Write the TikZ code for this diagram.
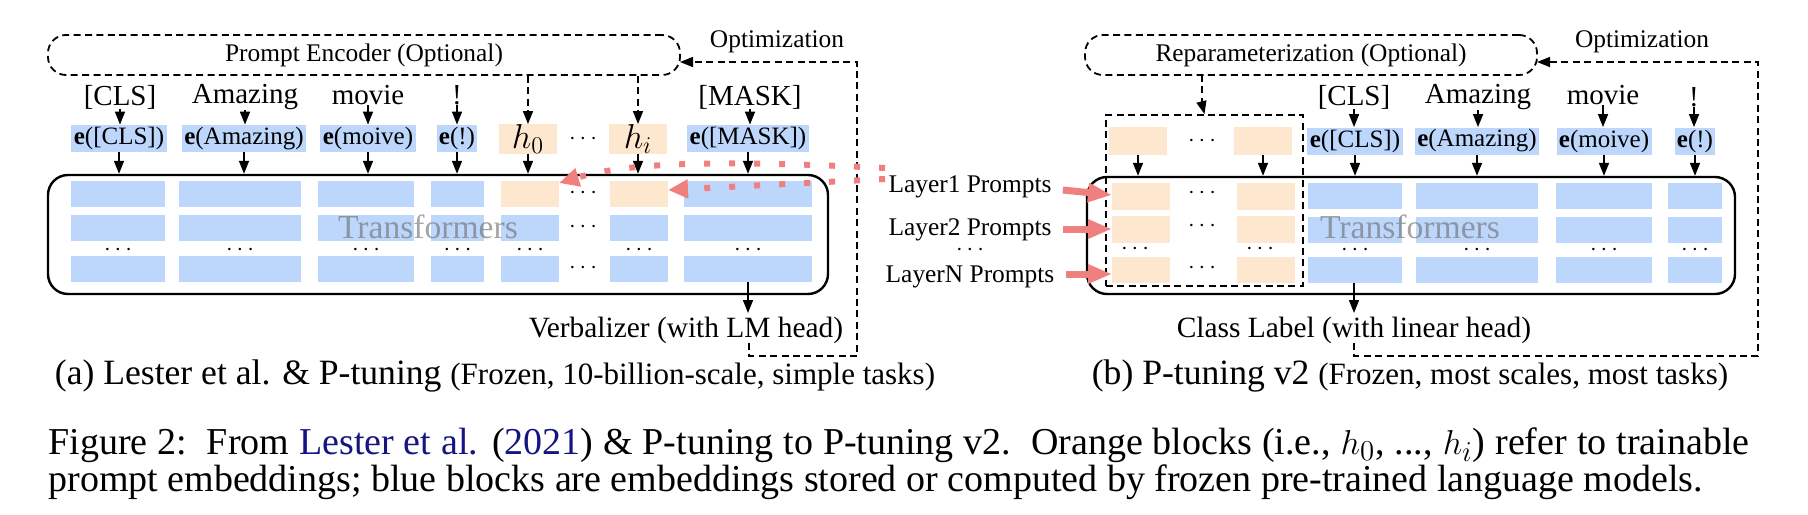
\documentclass[tikz,border=0pt]{standalone}
\usepackage{fontspec}
\setmainfont{Liberation Serif}
\usetikzlibrary{arrows.meta,fit,calc}
\definecolor{bl}{RGB}{189,215,252}
\definecolor{og}{RGB}{253,231,206}
\definecolor{rd}{RGB}{240,128,128}
\definecolor{citeblue}{RGB}{20,20,130}
\newcommand\fbig{\fontsize{14.7}{17}\selectfont}
\newcommand\ftok{\fontsize{14.5}{17}\selectfont}
\newcommand\fmid{\fontsize{12.7}{15}\selectfont}
\newcommand\fee{\fontsize{12.5}{15}\selectfont}
\newcommand\ftr{\fontsize{16.8}{20}\selectfont}
\newcommand\fdots{\fontsize{13}{15}\selectfont}
\newcommand\fcapbig{\fontsize{17.8}{21}\selectfont}
\newcommand\fcapsmall{\fontsize{15.5}{18}\selectfont}
\newcommand\fcap{\fontsize{19}{22}\selectfont}
\begin{document}
\begin{tikzpicture}[x=0.5pt,y=-0.5pt,
  arr/.style={-{Triangle[length=6.5pt,width=5pt]}, line width=0.8pt},
  dsh/.style={dash pattern=on 3.5pt off 2.2pt, line width=0.9pt},
  ebox/.style={fill=bl, inner xsep=1.2pt, inner ysep=0pt, minimum height=13.5pt, font=\fee},
  obox/.style={fill=og, inner sep=0pt, minimum width=29pt, minimum height=14pt},
  tok/.style={font=\ftok, inner sep=0pt},
  lbl/.style={font=\fbig, inner sep=0pt},
  dts/.style={font=\fdots, inner sep=0pt},
  tbox/.style={draw, line width=1.2pt, rounded corners=10pt, inner sep=0pt},
  pbox/.style={draw, dsh, rounded corners=9pt, inner sep=0pt},
  redar/.style={draw=rd, line width=3.5pt, -{Triangle[length=12pt,width=9pt]}},
  reddot/.style={draw=rd, line width=3pt, dash pattern=on 3pt off 9.5pt, -{Triangle[length=10pt,width=9pt]}},
  trlabel/.style={font=\ftr, text=black!55, text opacity=0.65, inner sep=0pt},
  lyr/.style={font=\fmid, inner sep=0pt},
]
\useasboundingbox (0,0) rectangle (1808,514);

%%%%%%%%%%%%%%%% Panel (a) %%%%%%%%%%%%%%%%
\node[pbox, fit={(48,35) (680,75)}] (enc) {};
\node[font=\fmid, inner sep=0pt] (encL) at (364,55) {Prompt Encoder (Optional)};

\node[tbox, fit={(48,175) (828,294)}] (TA) {};

% blocks
\foreach \a/\b in {71/165,179/301,318/414,431/484,501/559,610/668,684/812} {
  \foreach \t/\u in {181/207,215/241,256/282} {
    \fill[bl] (\a,\t) rectangle (\b,\u);
  }
  \node[dts] at ({(\a+\b)/2},250) {$\cdots$};
}
\fill[og] (501,181) rectangle (559,207);
\fill[og] (610,181) rectangle (668,207);
\node[dts] at (583,193) {$\cdots$};
\node[dts] at (583,227) {$\cdots$};
\node[dts] at (583,268) {$\cdots$};
\coordinate (hzA) at (559,183);
\coordinate (hiA) at (668,190);

\node[trlabel] (trA) at (428,227) {Transformers};

% tokens
\node[tok] (aCLS) at (120,97) {[CLS]};
\node[tok] (aAma) at (245,97) {Amazing};
\node[tok] (aMov) at (368,95) {movie};
\node[tok] (aExc) at (457,95) {!};
\node[tok] (aMsk) at (750,97) {[MASK]};

\node[ebox] (eaCLS) at (119,138.5) {\textbf{e}([CLS])};
\node[ebox] (eaAma) at (244,138.5) {\textbf{e}(Amazing)};
\node[ebox] (eaMov) at (368,138.5) {\textbf{e}(moive)};
\node[ebox] (eaExc) at (457,138.5) {\textbf{e}(!)};
\node[ebox] (eaMsk) at (748,138.5) {\textbf{e}([MASK])};
\node[obox] (h0) at (528,139) {\fontsize{17}{20}\selectfont$h_0$};
\node[obox] (hi) at (638,139) {\fontsize{17}{20}\selectfont$h_i$};
\node[dts] (hdots) at (583,139) {$\cdots$};

\foreach \t/\e in {aCLS/eaCLS,aAma/eaAma,aMov/eaMov,aExc/eaExc,aMsk/eaMsk} {
  \draw[arr] (\t.south) -- (\t.south |- \e.north);
}
\foreach \e in {eaCLS,eaAma,eaMov,eaExc,h0,hi,eaMsk} {
  \draw[arr] (\e.south) -- (\e.south |- TA.north);
}
\draw[dsh] (h0.north |- enc.south) -- ($(h0.north)+(0,-9)$);
\draw[arr] ($(h0.north)+(0,-9)$) -- (h0.north);
\draw[dsh] (hi.north |- enc.south) -- ($(hi.north)+(0,-9)$);
\draw[arr] ($(hi.north)+(0,-9)$) -- (hi.north);

% verbalizer
\coordinate (outA) at (748,282);
\node[lbl] (verb) at (686,330) {Verbalizer (with LM head)};
\draw[arr] (outA) -- (748,313);
\coordinate (optA1) at (749,343);
\coordinate (optA2) at (857,62);
\coordinate (optA3) at (680,62);
\draw[dsh] (optA1) |- (857,356) -- (optA2) -- (optA3);
\draw[-{Triangle[length=6.5pt,width=5pt]}, line width=0.8pt] (690,62) -- (optA3);
\node[font=\fmid, inner sep=0pt] (optAL) at (777,42) {Optimization};

% red dotted
\coordinate (rdA1) at (885,168);
\coordinate (rdA2) at (885,179);
\draw[reddot] (rdA1) .. controls (720,160) and (630,162) .. (hzA);
\draw[reddot] (rdA2) -- (hiA);

%%%%%%%%%%%%%%%% Panel (b) %%%%%%%%%%%%%%%%
\node[pbox, fit={(1085,35) (1537,75)}] (rep) {};
\node[font=\fmid, inner sep=0pt] (repL) at (1311,55) {Reparameterization (Optional)};

\node[tbox, fit={(1087,177) (1735,294)}] (TB) {};
\node[draw, dsh, fit={(1106,115) (1303,286)}, inner sep=0pt] (pp) {};

\foreach \a/\b in {1308/1402,1416/1538,1556/1652,1668/1722} {
  \foreach \t/\u in {183/209,217/243,257/283} {
    \fill[bl] (\a,\t) rectangle (\b,\u);
  }
  \node[dts] at ({(\a+\b)/2},250) {$\cdots$};
}
\foreach \a/\b in {1112/1170,1237/1295} {
  \foreach \t/\u in {183/210,216/243,257/283} {
    \fill[og] (\a,\t) rectangle (\b,\u);
  }
  \node[dts] at ({(\a+\b)/2-6},249) {$\cdots$};
}
\node[dts] at (1202,193) {$\cdots$};
\node[dts] at (1202,226) {$\cdots$};
\node[dts] at (1202,268) {$\cdots$};
\coordinate (L1) at (1112,195);
\coordinate (L2) at (1112,229);
\coordinate (LN) at (1112,274);

\node[trlabel] (trB) at (1410,227) {Transformers};

\node[obox] (pb1) at (1138,141) {};
\node[obox] (pb2) at (1263,141) {};
\node[dts] (pbd) at (1202,141) {$\cdots$};
\draw[dsh] (1202,75) -- (1202,105);
\draw[arr] (1202,104) -- (pp.north);
\draw[arr] (pb1.south) -- (pb1.south |- TB.north);
\draw[arr] (pb2.south) -- (pb2.south |- TB.north);

\node[tok] (bCLS) at (1354,97) {[CLS]};
\node[tok] (bAma) at (1478,97) {Amazing};
\node[tok] (bMov) at (1603,95) {movie};
\node[tok] (bExc) at (1694,97) {!};
\node[ebox] (ebCLS) at (1355,141) {\textbf{e}([CLS])};
\node[ebox] (ebAma) at (1477,141) {\textbf{e}(Amazing)};
\node[ebox] (ebMov) at (1604,141) {\textbf{e}(moive)};
\node[ebox] (ebExc) at (1695,141) {\textbf{e}(!)};
\foreach \t/\e in {bCLS/ebCLS,bAma/ebAma,bMov/ebMov,bExc/ebExc} {
  \draw[arr] (\t.south) -- (\t.south |- \e.north);
  \draw[arr] (\e.south) -- (\e.south |- TB.north);
}

\node[lyr] (ly1) at (970,187) {Layer1 Prompts};
\node[lyr] (ly2) at (970,230) {Layer2 Prompts};
\node[dts] (lyd) at (970,250) {$\cdots$};
\node[lyr] (lyN) at (970,277) {LayerN Prompts};
\draw[redar] ($(ly1.east)+(11,3)$) -- (L1);
\draw[redar] ($(ly2.east)+(11,-1)$) -- (L2);
\draw[redar] ($(lyN.east)+(11,-3)$) -- (LN);

\coordinate (outB) at (1354,283);
\node[lbl] (cls) at (1354,330) {Class Label (with linear head)};
\draw[arr] (outB) -- (1354,313);
\coordinate (optB1) at (1354,343);
\coordinate (optB2) at (1758,62);
\coordinate (optB3) at (1537,62);
\draw[dsh] (optB1) |- (1758,356) -- (optB2) -- (optB3);
\draw[-{Triangle[length=6.5pt,width=5pt]}, line width=0.8pt] (1547,62) -- (optB3);
\node[font=\fmid, inner sep=0pt] (optBL) at (1642,42) {Optimization};

%%%%%%%%%%%%%%%% Captions %%%%%%%%%%%%%%%%
\node[inner sep=0pt] (capA) at (495,376) {\fcapbig (a) Lester et al. \& P-tuning {\fcapsmall (Frozen, 10-billion-scale, simple tasks)}};
\node[inner sep=0pt] (capB) at (1410,376) {\fcapbig (b) P-tuning v2 {\fcapsmall (Frozen, most scales, most tasks)}};

\node[inner sep=0pt, anchor=west] (fig1) at (48,445) {\fcap\makebox[850.5pt][s]{Figure 2:\ \ From \textcolor{citeblue}{Lester et al.} (\textcolor{citeblue}{2021}) \& P-tuning to P-tuning v2.\ \ Orange blocks (i.e., $h_0$, ..., $h_i$) refer to trainable}};
\node[inner sep=0pt, anchor=west] (fig2) at (48,482) {\fcap prompt embeddings; blue blocks are embeddings stored or computed by frozen pre-trained language models.};
\end{tikzpicture}
\end{document}
